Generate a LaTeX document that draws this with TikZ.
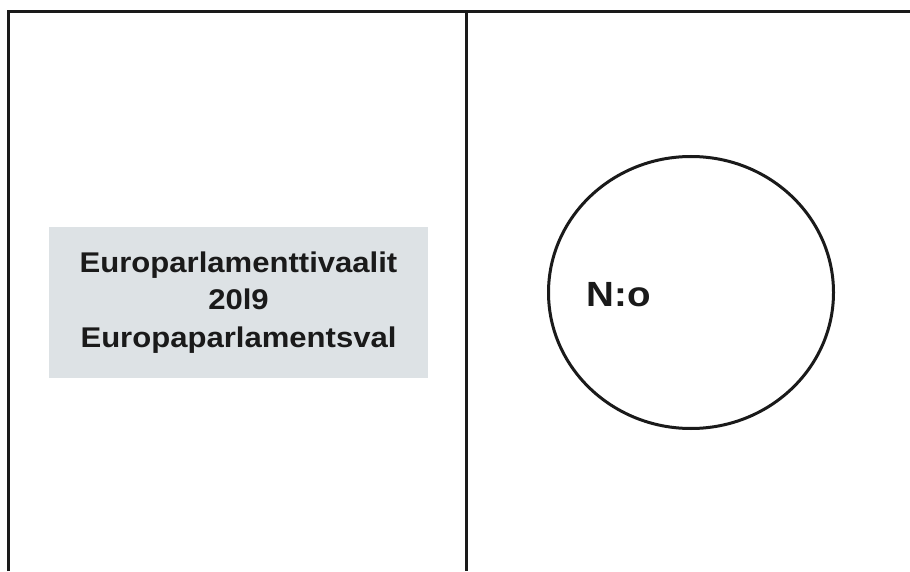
\documentclass[tikz,border=0pt]{standalone}
\usepackage{fontspec}
\setmainfont{Liberation Sans}
\definecolor{boxgray}{HTML}{DDE2E5}
\definecolor{ink}{HTML}{1A1A1A}
\tikzset{
  frame/.style={line width=3.2pt, draw=ink, line join=miter},
  labelbox/.style={fill=boxgray, inner sep=0pt, align=center, text=ink,
    font=\bfseries\fontsize{28.5}{37.5}\selectfont, xscale=1.09},
  numtext/.style={inner sep=0pt, text=ink, font=\bfseries\fontsize{35}{40}\selectfont, xscale=1.1}
}
\begin{document}
\begin{tikzpicture}[x=1pt,y=1pt]
\useasboundingbox (0,0) rectangle (910,571);
\fill[white] (0,0) rectangle (910,571);
% frame
\coordinate (bl) at (8.3,0);
\coordinate (tl) at (8.3,559.7);
\coordinate (tr) at (910,559.7);
\coordinate (dtop) at (466.5,559.7);
\coordinate (dbot) at (466.5,0);
\draw[frame] (bl) -- (tl) -- (tr);
\draw[frame] (dtop) -- (dbot);
% label box
\node[labelbox, minimum width=347.7pt, minimum height=151pt] (box) at (238.5,268.5)
  {Europarlamenttivaalit\\20l9\\Europaparlamentsval};
% circle
\coordinate (cc) at (691,278.5);
\draw[line width=3pt, draw=ink] (cc) ellipse [x radius=142.5, y radius=136];
\node[numtext, anchor=base west] (no) at (586.5,264.3) {N:o};
\end{tikzpicture}
\end{document}
